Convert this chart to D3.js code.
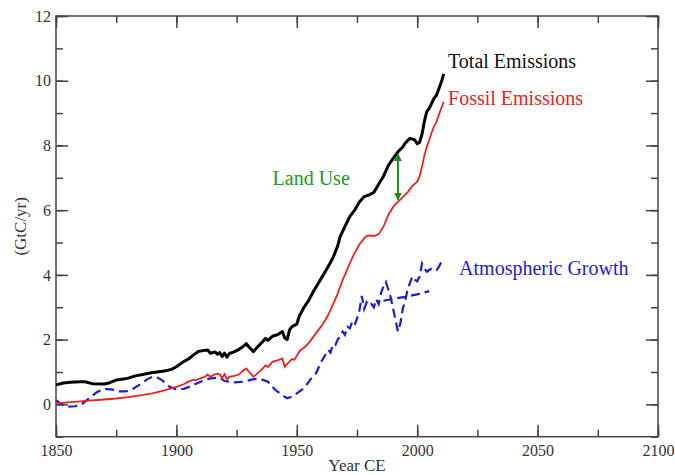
<!DOCTYPE html>
<html lang="en">
  <head>
    <meta charset="UTF-8" />
    <title>Carbon Emissions and Atmospheric Growth</title>
    <script src="https://d3js.org/d3.v7.min.js"></script>
    <style>
      body {
        margin: 0;
        background: #fff;
      }
      svg text {
        font-family: "Liberation Serif", "Times New Roman", serif;
      }
      .axis text {
        font-size: 16px;
        fill: #333;
      }
      .axis path,
      .axis line {
        stroke: #444;
        stroke-width: 1.5;
      }
    </style>
  </head>
  <body>
    <div id="chart"></div>
    <script>
      // Data (GtC/yr)
      const totalYears = [1850, 1853, 1856, 1860, 1862, 1865, 1870, 1872, 1875, 1878, 1880, 1883, 1886, 1889, 1892, 1895, 1898, 1900, 1903, 1905, 1907, 1909, 1911, 1913, 1914, 1916, 1917, 1918, 1919, 1920, 1921, 1922, 1924, 1926, 1928, 1929, 1930, 1932, 1934, 1936, 1937, 1938, 1940, 1942, 1944, 1945, 1946, 1947, 1948, 1950, 1951, 1952, 1953, 1955, 1957, 1959, 1961, 1963, 1965, 1967, 1968, 1970, 1972, 1974, 1976, 1978, 1980, 1982, 1984, 1986, 1988, 1990, 1992, 1994, 1995, 1997, 1999, 2000, 2001, 2002, 2003, 2004, 2005, 2006, 2007, 2008, 2009, 2010, 2011];
      const totalValues = [0.60, 0.66, 0.68, 0.70, 0.70, 0.64, 0.63, 0.66, 0.75, 0.78, 0.81, 0.88, 0.92, 0.97, 1.00, 1.03, 1.08, 1.16, 1.32, 1.40, 1.52, 1.63, 1.66, 1.68, 1.58, 1.62, 1.55, 1.60, 1.48, 1.58, 1.46, 1.57, 1.62, 1.70, 1.80, 1.88, 1.78, 1.63, 1.80, 1.95, 2.04, 1.98, 2.11, 2.15, 2.25, 2.05, 2.00, 2.30, 2.40, 2.48, 2.72, 2.86, 3.00, 3.22, 3.50, 3.75, 4.00, 4.25, 4.52, 4.90, 5.18, 5.50, 5.80, 6.00, 6.25, 6.42, 6.47, 6.55, 6.80, 7.05, 7.38, 7.60, 7.80, 7.95, 8.07, 8.22, 8.17, 8.05, 8.10, 8.35, 8.75, 9.05, 9.15, 9.30, 9.46, 9.55, 9.75, 9.95, 10.21];

      const fossilYears = [1850, 1855, 1860, 1865, 1870, 1875, 1880, 1885, 1890, 1895, 1900, 1903, 1905, 1907, 1908, 1910, 1912, 1913, 1914, 1916, 1917, 1918, 1919, 1920, 1921, 1922, 1924, 1926, 1927, 1929, 1930, 1932, 1934, 1936, 1937, 1938, 1940, 1942, 1944, 1945, 1946, 1947, 1948, 1949, 1950, 1951, 1952, 1953, 1955, 1957, 1959, 1961, 1963, 1965, 1967, 1969, 1970, 1972, 1974, 1975, 1976, 1978, 1979, 1980, 1982, 1984, 1986, 1988, 1990, 1992, 1994, 1996, 1998, 2000, 2001, 2002, 2003, 2004, 2005, 2006, 2007, 2008, 2009, 2010, 2011];
      const fossilValues = [0.03, 0.06, 0.09, 0.12, 0.15, 0.18, 0.22, 0.28, 0.34, 0.43, 0.54, 0.62, 0.70, 0.76, 0.74, 0.80, 0.86, 0.92, 0.85, 0.93, 0.95, 0.92, 0.81, 0.93, 0.77, 0.85, 0.88, 0.92, 1.00, 1.11, 1.02, 0.85, 0.98, 1.12, 1.21, 1.15, 1.32, 1.36, 1.42, 1.16, 1.25, 1.32, 1.40, 1.38, 1.50, 1.63, 1.70, 1.75, 1.90, 2.10, 2.30, 2.50, 2.76, 3.08, 3.42, 3.84, 4.00, 4.36, 4.68, 4.80, 4.95, 5.13, 5.20, 5.22, 5.20, 5.26, 5.49, 5.85, 6.10, 6.26, 6.40, 6.55, 6.75, 6.88, 7.05, 7.34, 7.70, 7.96, 8.17, 8.40, 8.60, 8.72, 8.95, 9.15, 9.35];

      const atmosYears = [1850, 1852, 1855, 1858, 1861, 1864, 1867, 1870, 1873, 1876, 1879, 1882, 1885, 1888, 1890, 1892, 1894, 1897, 1900, 1903, 1906, 1910, 1914, 1918, 1920, 1924, 1928, 1932, 1935, 1938, 1941, 1944, 1946, 1948, 1950, 1953, 1956, 1958, 1960, 1961, 1962, 1963, 1964, 1965, 1966, 1967, 1968, 1969, 1970, 1971, 1972, 1973, 1974, 1975, 1976, 1977, 1978, 1979, 1980, 1981, 1982, 1983, 1984, 1985, 1986, 1987, 1988, 1989, 1990, 1991, 1992, 1993, 1994, 1995, 1996, 1997, 1998, 1999, 2000, 2001, 2002, 2003, 2004, 2005, 2006, 2007, 2008, 2009, 2010, 2011];
      const atmosValues = [0.13, 0.02, -0.07, -0.06, 0.02, 0.20, 0.38, 0.47, 0.46, 0.40, 0.40, 0.48, 0.62, 0.78, 0.85, 0.83, 0.75, 0.55, 0.46, 0.48, 0.56, 0.70, 0.80, 0.83, 0.72, 0.68, 0.70, 0.78, 0.78, 0.70, 0.45, 0.28, 0.19, 0.24, 0.34, 0.50, 0.80, 0.96, 1.30, 1.42, 1.55, 1.68, 1.60, 1.85, 1.83, 2.00, 2.10, 2.25, 2.15, 2.40, 2.35, 2.55, 2.45, 2.65, 2.90, 3.35, 2.95, 3.15, 3.05, 3.10, 3.00, 3.25, 3.10, 3.45, 3.65, 3.78, 3.55, 3.30, 2.95, 2.60, 2.25, 2.50, 2.95, 3.20, 3.55, 3.75, 3.95, 3.85, 3.80, 3.95, 4.35, 4.20, 4.10, 4.15, 4.20, 4.18, 4.15, 4.25, 4.40, 4.50];

      // second, smoother atmospheric segment
      const atmosTrendYears = [1986, 1990, 1995, 2000, 2005];
      const atmosTrendValues = [3.20, 3.26, 3.32, 3.40, 3.50];

      const landUseYear = 1992;

      const xTicks = [1850, 1900, 1950, 2000, 2050, 2100];
      const yTicks = [0, 2, 4, 6, 8, 10, 12];

      const serif = '"Liberation Serif", "Times New Roman", serif';
      const width = 675;
      const height = 475;
      const margin = { top: 16, right: 17, bottom: 38.3, left: 56 };

      const svg = d3
        .select("#chart")
        .append("svg")
        .attr("width", width)
        .attr("height", height)
        .attr("font-family", serif);

      const x = d3
        .scaleLinear()
        .domain([1850, 2100])
        .range([margin.left, width - margin.right]);
      const y = d3
        .scaleLinear()
        .domain([-1, 12])
        .range([height - margin.bottom, margin.top]);

      const x0 = margin.left;
      const x1 = width - margin.right;
      const y0 = height - margin.bottom;
      const y1 = margin.top;

      const xMinor = d3.range(1850, 2101, 25);
      const yMinor = d3.range(-1, 13, 1);

      const addAxis = (axis, tx, ty) =>
        svg.append("g")
          .attr("class", "axis")
          .attr("transform", `translate(${tx},${ty})`)
          .call(axis)
          .attr("font-family", serif);

      // minor ticks
      addAxis(d3.axisBottom(x).tickValues(xMinor).tickSize(-7).tickFormat(""), 0, y0);
      addAxis(d3.axisTop(x).tickValues(xMinor).tickSize(-7).tickFormat(""), 0, y1);
      addAxis(d3.axisLeft(y).tickValues(yMinor).tickSize(-7).tickFormat(""), x0, 0);
      addAxis(d3.axisRight(y).tickValues(yMinor).tickSize(-7).tickFormat(""), x1, 0);

      // major ticks
      addAxis(d3.axisBottom(x).tickValues(xTicks).tickSize(-12).tickPadding(8).tickFormat(d3.format("d")), 0, y0);
      addAxis(d3.axisTop(x).tickValues(xTicks).tickSize(-12).tickFormat(""), 0, y1);
      addAxis(d3.axisLeft(y).tickValues(yTicks).tickSize(-12).tickPadding(5).tickFormat(d3.format("d")), x0, 0);
      addAxis(d3.axisRight(y).tickValues(yTicks).tickSize(-12).tickFormat(""), x1, 0);

      svg.selectAll(".axis .domain").remove();

      // frame
      svg.append("rect")
        .attr("x", x0).attr("y", y1)
        .attr("width", x1 - x0).attr("height", y0 - y1)
        .attr("fill", "none").attr("stroke", "#444").attr("stroke-width", 1.5);

      const line = d3.line().x((d) => x(d[0])).y((d) => y(d[1]));
      const pairs = (xs, ys) => xs.map((v, i) => [v, ys[i]]);

      svg.append("path")
        .datum(pairs(atmosYears, atmosValues))
        .attr("d", line).attr("fill", "none")
        .attr("stroke", "#1c1cdc").attr("stroke-width", 2.2)
        .attr("stroke-dasharray", "9,5");
      svg.append("path")
        .datum(pairs(atmosTrendYears, atmosTrendValues))
        .attr("d", line).attr("fill", "none")
        .attr("stroke", "#1c1cdc").attr("stroke-width", 2.2)
        .attr("stroke-dasharray", "9,5");

      svg.append("path")
        .datum(pairs(fossilYears, fossilValues))
        .attr("d", line).attr("fill", "none")
        .attr("stroke", "#ee2020").attr("stroke-width", 1.8);

      svg.append("path")
        .datum(pairs(totalYears, totalValues))
        .attr("d", line).attr("fill", "none")
        .attr("stroke", "#000").attr("stroke-width", 3)
        .attr("stroke-linejoin", "round");

      // land use arrow
      const defs = svg.append("defs");
      defs.append("marker")
        .attr("id", "arrow")
        .attr("viewBox", "0 0 10 10")
        .attr("refX", 9).attr("refY", 5)
        .attr("markerWidth", 4).attr("markerHeight", 4)
        .attr("orient", "auto-start-reverse")
        .append("path").attr("d", "M0,0L10,5L0,10z").attr("fill", "#1a8c1a");

      const totalAt = d3.scaleLinear().domain(totalYears).range(totalValues);
      const fossilAt = d3.scaleLinear().domain(fossilYears).range(fossilValues);
      svg.append("line")
        .attr("x1", x(landUseYear)).attr("x2", x(landUseYear))
        .attr("y1", y(totalAt(landUseYear)) + 2)
        .attr("y2", y(fossilAt(landUseYear)) - 2)
        .attr("stroke", "#1a8c1a").attr("stroke-width", 2)
        .attr("marker-start", "url(#arrow)")
        .attr("marker-end", "url(#arrow)");

      // labels
      const label = (yr, val, txt, color, anchor) =>
        svg.append("text")
          .attr("x", x(yr)).attr("y", y(val))
          .attr("dy", "0.35em")
          .attr("text-anchor", anchor || "start")
          .attr("fill", color)
          .style("font-family", serif)
          .style("font-size", "20px")
          .text(txt);

      label(2012.8, 10.6, "Total Emissions", "#111");
      label(2012.8, 9.47, "Fossil Emissions", "#ee2020");
      label(1972, 7.0, "Land Use", "#229922", "end");
      label(2017.4, 4.21, "Atmospheric Growth", "#1c1cdc");

      svg.append("text")
        .attr("x", (x0 + x1) / 2).attr("y", 471)
        .attr("text-anchor", "middle")
        .attr("fill", "#333")
        .style("font-family", serif)
        .style("font-size", "17px")
        .text("Year CE");

      svg.append("text")
        .attr("transform", `translate(20,${(y0 + y1) / 2}) rotate(-90)`)
        .attr("text-anchor", "middle")
        .attr("dy", "0.35em")
        .attr("fill", "#333")
        .style("font-family", serif)
        .style("font-size", "17px")
        .text("(GtC/yr)");
    </script>
  </body>
</html>
